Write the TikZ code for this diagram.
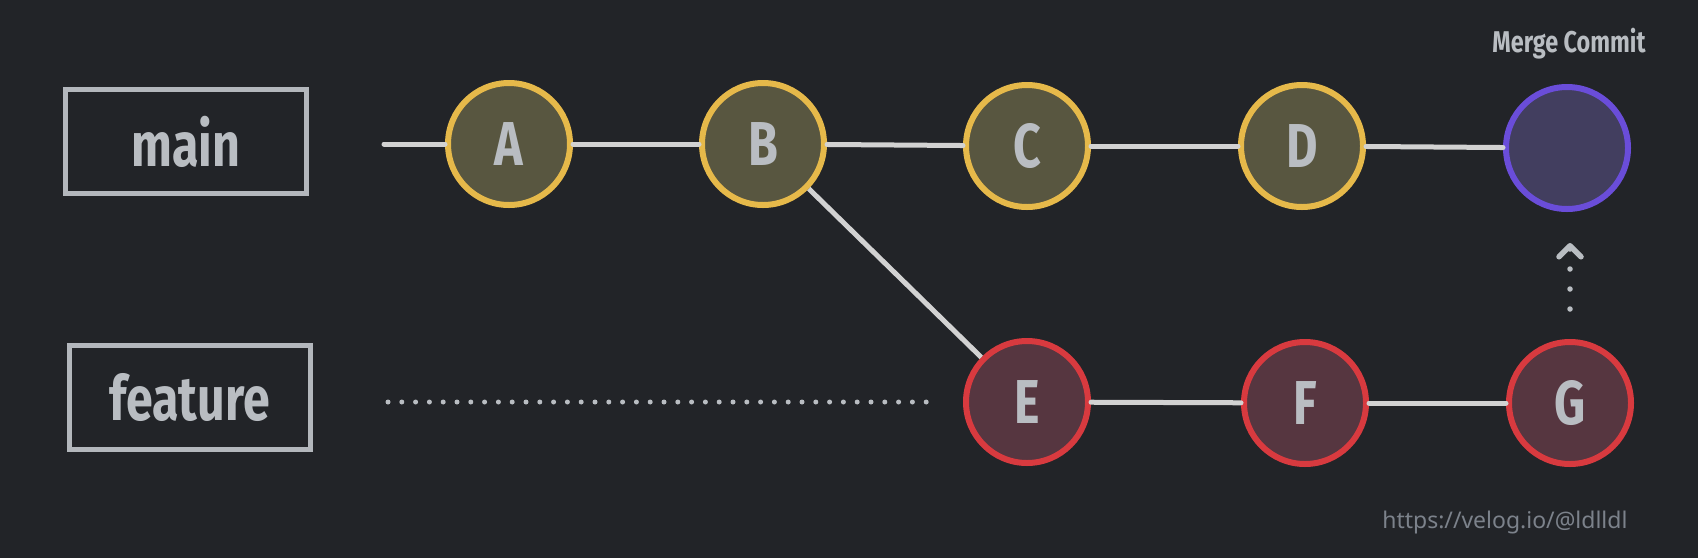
\documentclass[tikz,border=0pt]{standalone}
\usepackage{fontspec}
\usepackage{graphicx}
\setmainfont{Fira Sans}
\newfontfamily\urlfont{Noto Sans}
\usetikzlibrary{arrows.meta}
\definecolor{bg}{HTML}{222428}
\definecolor{txt}{HTML}{B9BDC2}
\definecolor{boxc}{HTML}{B3B7BC}
\definecolor{linec}{HTML}{D2D2D2}
\definecolor{ylw}{HTML}{E6B94A}
\definecolor{ylwfill}{HTML}{585640}
\definecolor{redc}{HTML}{D83A3F}
\definecolor{redfill}{HTML}{563640}
\definecolor{prp}{HTML}{6A4DD9}
\definecolor{prpfill}{HTML}{423E5F}
\definecolor{urlc}{HTML}{7C828B}
\newcommand{\hw}[2]{\scalebox{0.78}[1]{\fontsize{#1}{#1}\selectfont\bfseries #2}}
\begin{document}
\begin{tikzpicture}[x=1pt,y=-1pt,
  commit/.style={circle, minimum size=122pt, inner sep=0pt, line width=6pt, text=txt},
  maincommit/.style={commit, draw=ylw, fill=ylwfill},
  featcommit/.style={commit, draw=redc, fill=redfill},
  mergecommit/.style={commit, draw=prp, fill=prpfill},
  branchbox/.style={draw=boxc, line width=5pt, minimum width=241pt, minimum height=104pt, inner sep=0pt, text=txt},
  histline/.style={draw=linec, line width=5pt, line cap=round},
  dotline/.style={draw=txt, line width=5pt, line cap=round, dash pattern=on 0pt off 13.8pt},
  mergearrow/.style={draw=txt, line width=5.5pt, line cap=round, dash pattern=on 0pt off 20pt,
     -{Straight Barb[length=11pt, width=22pt, line cap=round, line join=round]}}
]
\fill[bg] (0,0) rectangle (1698,558);

\node[branchbox] (mainbox) at (186,141.5) {\hw{62}{main}};
\node[branchbox] (featbox) at (189.5,397.5) {\hw{62}{feature}};

\node[maincommit] (A) at (509,144) {\hw{62}{A}};
\node[maincommit] (B) at (763,144) {\hw{62}{B}};
\node[maincommit] (C) at (1027,146) {\hw{62}{C}};
\node[maincommit] (D) at (1302,146) {\hw{62}{D}};
\node[mergecommit] (M) at (1567,148) {};
\node[featcommit] (E) at (1027,402) {\hw{62}{E}};
\node[featcommit] (F) at (1305,403) {\hw{62}{F}};
\node[featcommit] (G) at (1570,403) {\hw{62}{G}};

\node[text=txt] (mlabel) at (1569,44) {\hw{30}{Merge Commit}};
\node[text=urlc, anchor=east] (url) at (1631,523) {\urlfont\fontsize{23}{23}\selectfont https://velog.io/@ldlldl};

\coordinate (mstart) at (384,144);
\coordinate (fstart) at (388,402);

\draw[histline] (mstart) -- (A);
\draw[histline] (A) -- (B);
\draw[histline] (B) -- (C);
\draw[histline] (C) -- (D);
\draw[histline] (D) -- (M);
\draw[histline, line cap=butt] (B) -- (E);
\draw[histline] (E) -- (F);
\draw[histline] (F) -- (G);
\draw[dotline, shorten >=36pt] (fstart) -- (E);
\draw[mergearrow, shorten <=30pt, shorten >=31pt] (G.north) -- (G.north |- M.south);
\end{tikzpicture}
\end{document}
